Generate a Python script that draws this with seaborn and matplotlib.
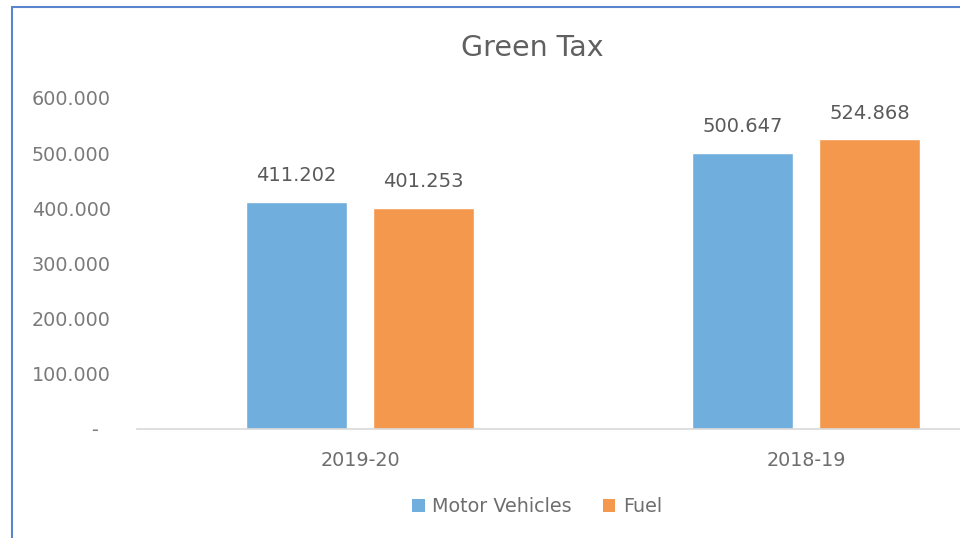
import pandas as pd
import numpy as np
import matplotlib
matplotlib.use("Agg")
import matplotlib.pyplot as plt
from matplotlib.lines import Line2D
from matplotlib.patches import Patch
import seaborn as sns

sns.set_style("white")
plt.rcParams['font.family'] = ['DejaVu Sans']

# chart values
years = ["2019-20", "2018-19"]
motor_vehicles = [411.202, 500.647]
fuel = [401.253, 524.868]
series_names = ["Motor Vehicles", "Fuel"]
colors = ["#70AEDE", "#F4984D"]
ytick_vals = [0, 100, 200, 300, 400, 500, 600]

df = pd.DataFrame({
    "year": years * 2,
    "value": motor_vehicles + fuel,
    "series": [series_names[0]] * 2 + [series_names[1]] * 2,
})

fig = plt.figure(figsize=(9.6, 5.38), dpi=100)
ax = fig.add_axes([137 / 960, 1 - 429 / 538, 1 - 137 / 960, (429 - 98) / 538])

sns.barplot(data=df, x="year", y="value", hue="series", palette=colors,
            width=0.57, gap=0.21, ax=ax, legend=False, saturation=1)

ax.set_xlim(-0.5, 1.345)
ax.set_ylim(0, 600)
ax.set_yticks(ytick_vals)
ax.set_yticklabels(["-  "] + [f"{v:.3f}" for v in ytick_vals[1:]])
ax.set_xlabel("")
ax.set_ylabel("")

for side in ["top", "right", "left"]:
    ax.spines[side].set_visible(False)
ax.spines["bottom"].set_color("#D9D9D9")
ax.spines["bottom"].set_linewidth(1.2)

ax.tick_params(axis="y", length=0, pad=19, labelsize=13.8, labelcolor="#7A7A7A")
ax.tick_params(axis="x", length=0, pad=16, labelsize=13.8, labelcolor="#6E6E6E")

for cont in ax.containers:
    ax.bar_label(cont, fmt="%.3f", padding=12, fontsize=14, color="#5A5A5A")

fig.text(532 / 960, 1 - 48 / 538, "Green Tax", ha="center", va="center",
         fontsize=20.5, color="#606060")

handles = [Patch(facecolor=c, edgecolor="none") for c in colors]
fig.legend(handles, series_names, loc="center", ncol=2,
           bbox_to_anchor=(537 / 960, 1 - 507 / 538), frameon=False,
           fontsize=13.8, labelcolor="#6E6E6E", handlelength=0.65, handleheight=0.65,
           handletextpad=0.4, columnspacing=1.6)

# chart border (left and top edges are visible in the crop)
bx = 12 / 960
by = 1 - 7 / 538
fig.add_artist(Line2D([bx, bx], [0, by], transform=fig.transFigure,
                      color="#5B84D0", linewidth=1.5))
fig.add_artist(Line2D([bx, 1], [by, by], transform=fig.transFigure,
                      color="#5B84D0", linewidth=1.5))

fig.savefig("out.png", dpi=100)
